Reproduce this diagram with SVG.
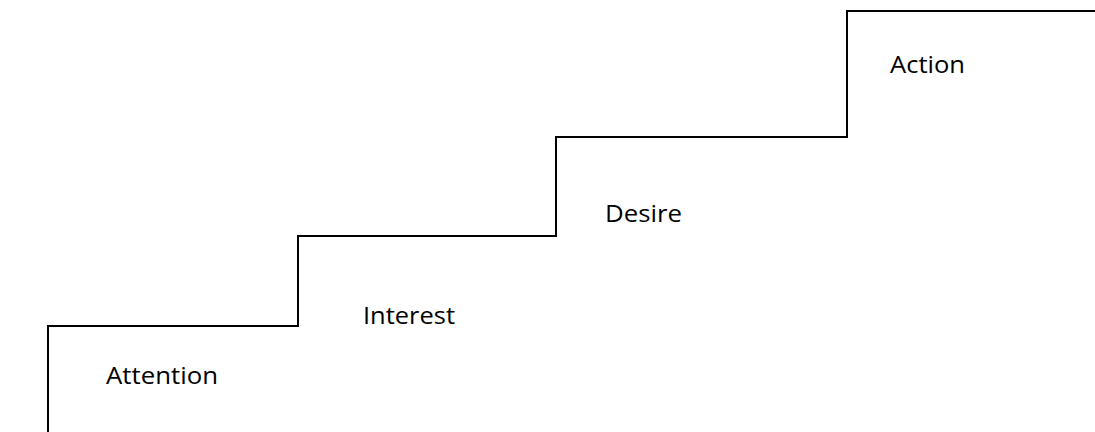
<svg xmlns="http://www.w3.org/2000/svg" width="1095" height="432" viewBox="0 0 1095 432">
  <style>
    .step { fill: none; stroke: #000; stroke-width: 2; }
    .label { font-family: "Open Sans", "Liberation Sans", sans-serif; font-size: 23px; fill: #000; }
  </style>
  <rect width="1095" height="432" fill="#fff"/>
  <!-- staircase outline -->
  <g id="connectors">
    <path class="step" d="M48,432 V326 H298 V236 H556 V137 H847 V11 H1095"/>
  </g>
  <g id="attention"><text class="label" x="106" y="384" textLength="112" lengthAdjust="spacingAndGlyphs">Attention</text></g>
  <g id="interest"><text class="label" x="363" y="324" textLength="92" lengthAdjust="spacingAndGlyphs">Interest</text></g>
  <g id="desire"><text class="label" x="605" y="222" textLength="77" lengthAdjust="spacingAndGlyphs">Desire</text></g>
  <g id="action"><text class="label" x="890" y="73" textLength="75" lengthAdjust="spacingAndGlyphs">Action</text></g>
</svg>
